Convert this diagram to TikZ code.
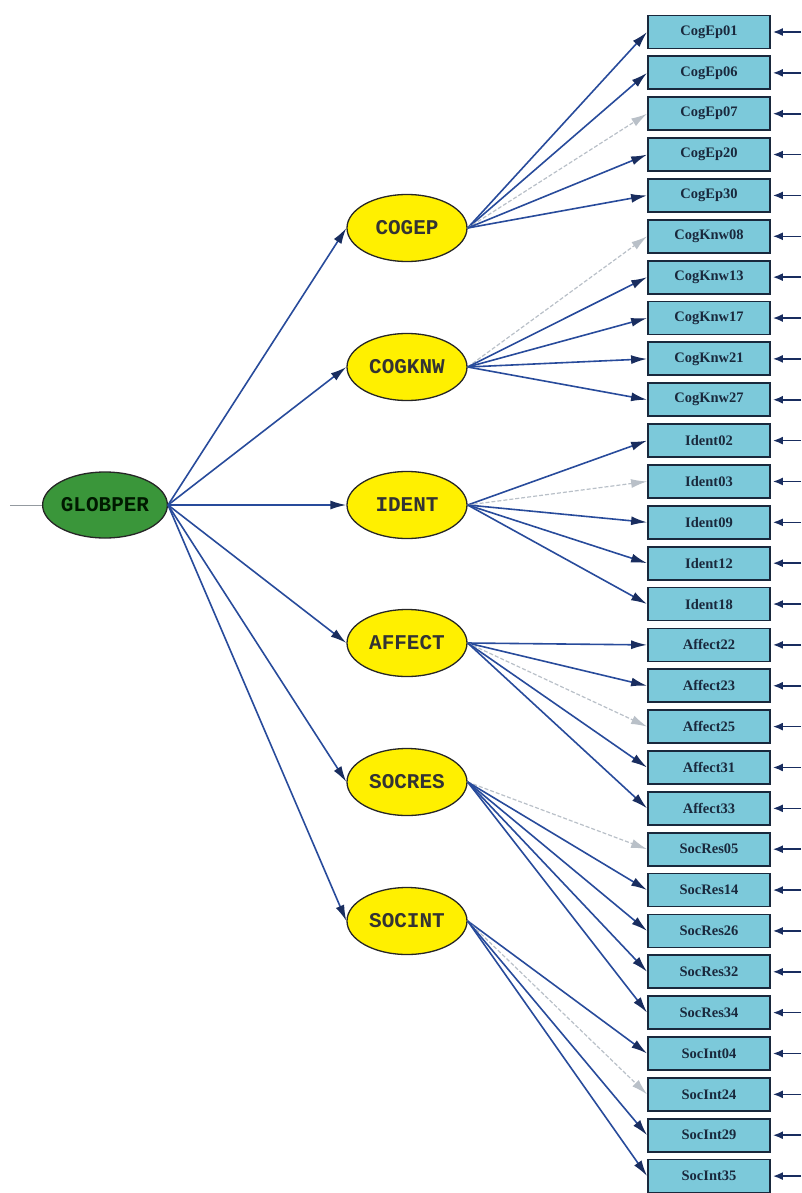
\documentclass[tikz,border=0pt]{standalone}
\usepackage{fontspec}
\setmainfont{Liberation Serif}
\newfontfamily\latfont{Liberation Mono}
\usetikzlibrary{arrows.meta,shapes.geometric}
\definecolor{boxfill}{RGB}{124,201,218}
\definecolor{boxline}{RGB}{25,40,60}
\definecolor{latfill}{RGB}{255,240,0}
\definecolor{globfill}{RGB}{58,150,58}
\definecolor{pathblue}{RGB}{40,75,155}
\definecolor{headblue}{RGB}{25,45,95}
\definecolor{nsgrey}{RGB}{185,192,200}
\tikzset{
  obs/.style={draw=boxline, line width=1.8pt, fill=boxfill, minimum width=122pt, minimum height=33pt, inner sep=0pt,
    font=\fontsize{14.5}{14.5}\selectfont\bfseries, text=boxline},
  lat/.style={ellipse, draw=black!85, line width=1.3pt, fill=latfill, minimum width=120pt, minimum height=67pt, inner sep=0pt,
    font=\latfont\fontsize{21}{21}\selectfont\bfseries, text=black!80},
  glob/.style={lat, fill=globfill, minimum width=124pt, minimum height=66pt, text=black!75!green!40!black},
  ldsig/.style={draw=pathblue, line width=1.6pt, -{Latex[length=16pt,width=9pt,color=headblue]}},
  ldns/.style={draw=nsgrey, line width=1.2pt, dash pattern=on 4pt off 2pt, -{Latex[length=16pt,width=9pt,color=nsgrey]}},
  err/.style={draw=headblue, line width=1.6pt, -{Latex[length=10pt,width=8pt]}, shorten >=2pt},
  dist/.style={draw=nsgrey!80!black, line width=1pt}
}
\begin{document}
\begin{tikzpicture}[x=1pt,y=-1pt]
\useasboundingbox (0,0) rectangle (801,1193);
\node[glob] (globper) at (105,505) {GLOBPER};
\coordinate (gdist) at (10,505);
\draw[dist] (gdist) -- (globper.west);
\node[lat] (cogep) at (407,228) {COGEP};
\node[lat] (cogknw) at (407,367) {COGKNW};
\node[lat] (ident) at (407,505) {IDENT};
\node[lat] (affect) at (407,643) {AFFECT};
\node[lat] (socres) at (407,782) {SOCRES};
\node[lat] (socint) at (407,921) {SOCINT};
\foreach \l in {cogep,cogknw,ident,affect,socres,socint}
  \draw[ldsig] (globper.east) -- (\l.west);
\foreach \lab [count=\i from 0] in {CogEp01,CogEp06,CogEp07,CogEp20,CogEp30,CogKnw08,CogKnw13,CogKnw17,CogKnw21,CogKnw27,Ident02,Ident03,Ident09,Ident12,Ident18,Affect22,Affect23,Affect25,Affect31,Affect33,SocRes05,SocRes14,SocRes26,SocRes32,SocRes34,SocInt04,SocInt24,SocInt29,SocInt35}{
  \node[obs] (b\i) at (709,{32+\i*40.86}) {\lab};
  \coordinate (e\i) at (801,{32+\i*40.86});
  \draw[err] (e\i) -- (b\i.east);
}
\foreach \l/\i/\s in {cogep/0/ldsig,cogep/1/ldsig,cogep/2/ldns,cogep/3/ldsig,cogep/4/ldsig,
  cogknw/5/ldns,cogknw/6/ldsig,cogknw/7/ldsig,cogknw/8/ldsig,cogknw/9/ldsig,
  ident/10/ldsig,ident/11/ldns,ident/12/ldsig,ident/13/ldsig,ident/14/ldsig,
  affect/15/ldsig,affect/16/ldsig,affect/17/ldns,affect/18/ldsig,affect/19/ldsig,
  socres/20/ldns,socres/21/ldsig,socres/22/ldsig,socres/23/ldsig,socres/24/ldsig,
  socint/25/ldsig,socint/26/ldns,socint/27/ldsig,socint/28/ldsig}
  \draw[\s] (\l.east) -- (b\i.west);
\end{tikzpicture}
\end{document}
